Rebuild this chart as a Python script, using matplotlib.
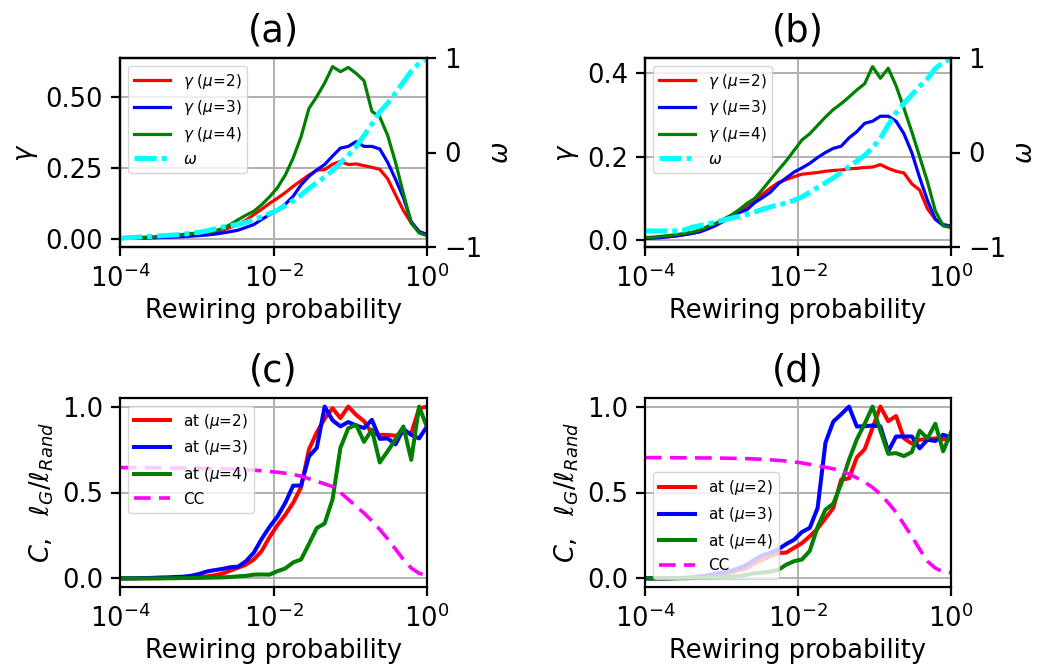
import numpy as np
import matplotlib
matplotlib.use('Agg')
import matplotlib.pyplot as plt
from matplotlib.ticker import NullLocator

# ---------------- data ----------------
p = np.logspace(-4, 0, 40)   # rewiring probability

gamma_a_mu2 = [0.002, 0.003, 0.003, 0.004, 0.005, 0.006, 0.007, 0.008, 0.010, 0.012,
               0.015, 0.019, 0.024, 0.030, 0.040, 0.050, 0.065, 0.085, 0.104, 0.125,
               0.143, 0.163, 0.185, 0.205, 0.225, 0.242, 0.244, 0.263, 0.273, 0.262,
               0.264, 0.258, 0.252, 0.245, 0.212, 0.155, 0.100, 0.055, 0.025, 0.014]
gamma_a_mu3 = [0.001, 0.001, 0.002, 0.002, 0.003, 0.004, 0.005, 0.006, 0.007, 0.009,
               0.011, 0.013, 0.016, 0.020, 0.025, 0.030, 0.040, 0.050, 0.068, 0.085,
               0.102, 0.122, 0.150, 0.190, 0.220, 0.243, 0.262, 0.292, 0.320, 0.326,
               0.343, 0.326, 0.326, 0.317, 0.270, 0.210, 0.145, 0.060, 0.025, 0.015]
gamma_a_mu4 = [0.003, 0.003, 0.004, 0.005, 0.006, 0.008, 0.010, 0.012, 0.015, 0.018,
               0.021, 0.024, 0.028, 0.035, 0.050, 0.067, 0.083, 0.097, 0.120, 0.148,
               0.180, 0.225, 0.285, 0.360, 0.460, 0.502, 0.550, 0.608, 0.590, 0.605,
               0.584, 0.558, 0.450, 0.430, 0.365, 0.270, 0.160, 0.055, 0.020, 0.011]
omega_a = [-0.907, -0.902, -0.897, -0.892, -0.887, -0.882, -0.877, -0.872, -0.865, -0.855,
           -0.845, -0.830, -0.810, -0.790, -0.775, -0.760, -0.740, -0.710, -0.680, -0.645,
           -0.610, -0.560, -0.510, -0.450, -0.380, -0.320, -0.260, -0.190, -0.110, -0.030,
           0.060, 0.180, 0.300, 0.430, 0.520, 0.630, 0.745, 0.860, 0.945, 0.990]

gamma_b_mu2 = [0.004, 0.005, 0.006, 0.008, 0.010, 0.013, 0.016, 0.020, 0.027, 0.035,
               0.045, 0.055, 0.066, 0.080, 0.095, 0.110, 0.125, 0.138, 0.145, 0.152,
               0.158, 0.160, 0.162, 0.165, 0.167, 0.168, 0.171, 0.172, 0.174, 0.175,
               0.181, 0.172, 0.165, 0.161, 0.135, 0.120, 0.075, 0.050, 0.038, 0.033]
gamma_b_mu3 = [0.004, 0.005, 0.006, 0.008, 0.010, 0.013, 0.016, 0.020, 0.027, 0.035,
               0.046, 0.057, 0.066, 0.073, 0.090, 0.102, 0.115, 0.135, 0.149, 0.163,
               0.173, 0.184, 0.198, 0.210, 0.220, 0.225, 0.245, 0.260, 0.280, 0.285,
               0.297, 0.297, 0.285, 0.255, 0.210, 0.150, 0.095, 0.050, 0.035, 0.033]
gamma_b_mu4 = [0.006, 0.007, 0.009, 0.011, 0.013, 0.016, 0.019, 0.024, 0.033, 0.040,
               0.050, 0.060, 0.073, 0.088, 0.100, 0.122, 0.145, 0.168, 0.190, 0.215,
               0.240, 0.255, 0.275, 0.295, 0.313, 0.327, 0.343, 0.360, 0.375, 0.416,
               0.388, 0.412, 0.370, 0.316, 0.260, 0.200, 0.140, 0.070, 0.034, 0.030]
omega_b = [-0.83, -0.83, -0.83, -0.83, -0.83, -0.82, -0.79, -0.775, -0.755, -0.735,
           -0.715, -0.695, -0.675, -0.655, -0.63, -0.60, -0.575, -0.555, -0.535, -0.505,
           -0.47, -0.42, -0.37, -0.32, -0.27, -0.21, -0.15, -0.09, -0.03, 0.05,
           0.15, 0.29, 0.42, 0.52, 0.61, 0.70, 0.78, 0.89, 0.95, 0.99]

at_c_mu2 = [0.0, 0.0, 0.0, 0.001, 0.001, 0.002, 0.002, 0.003, 0.004, 0.005,
            0.008, 0.012, 0.018, 0.028, 0.045, 0.062, 0.080, 0.110, 0.160, 0.240,
            0.310, 0.370, 0.440, 0.530, 0.750, 0.850, 0.930, 0.990, 0.933, 1.000,
            0.952, 0.915, 0.845, 0.835, 0.835, 0.830, 0.850, 0.845, 0.990, 1.000]
at_c_mu3 = [0.0, 0.0, 0.001, 0.002, 0.003, 0.005, 0.006, 0.008, 0.010, 0.015,
            0.025, 0.040, 0.048, 0.055, 0.065, 0.068, 0.100, 0.150, 0.230, 0.300,
            0.360, 0.440, 0.540, 0.540, 0.710, 0.760, 1.000, 0.920, 0.885, 0.910,
            0.890, 0.875, 0.923, 0.812, 0.815, 0.780, 0.870, 0.835, 0.815, 0.885]
at_c_mu4 = [0.0, 0.0, 0.0, 0.0, 0.0, 0.0, 0.001, 0.001, 0.002, 0.002,
            0.003, 0.004, 0.005, 0.006, 0.008, 0.012, 0.015, 0.022, 0.023, 0.022,
            0.042, 0.058, 0.093, 0.110, 0.200, 0.293, 0.320, 0.460, 0.760, 0.874,
            0.894, 0.795, 0.865, 0.675, 0.740, 0.810, 0.884, 0.690, 1.000, 0.880]
cc_c = [0.645, 0.645, 0.645, 0.645, 0.644, 0.644, 0.643, 0.643, 0.642, 0.642,
        0.641, 0.640, 0.639, 0.638, 0.637, 0.636, 0.633, 0.630, 0.626, 0.622,
        0.618, 0.612, 0.605, 0.595, 0.580, 0.565, 0.550, 0.535, 0.500, 0.460,
        0.420, 0.380, 0.335, 0.285, 0.230, 0.170, 0.110, 0.060, 0.030, 0.015]

at_d_mu2 = [0.0, 0.0, 0.0, 0.001, 0.002, 0.003, 0.005, 0.008, 0.012, 0.018,
            0.025, 0.035, 0.048, 0.060, 0.090, 0.110, 0.130, 0.148, 0.150, 0.178,
            0.205, 0.245, 0.290, 0.350, 0.410, 0.575, 0.582, 0.705, 0.752, 0.875,
            1.000, 0.915, 0.945, 0.815, 0.785, 0.807, 0.810, 0.815, 0.810, 0.810]
at_d_mu3 = [0.0, 0.0, 0.0, 0.001, 0.002, 0.003, 0.005, 0.012, 0.018, 0.027,
            0.035, 0.045, 0.060, 0.080, 0.110, 0.135, 0.150, 0.170, 0.200, 0.225,
            0.270, 0.294, 0.410, 0.790, 0.913, 0.955, 1.000, 0.884, 0.886, 0.890,
            0.885, 0.739, 0.826, 0.826, 0.826, 0.757, 0.807, 0.800, 0.836, 0.820]
at_d_mu4 = [0.0, 0.0, 0.0, 0.0, 0.001, 0.001, 0.002, 0.003, 0.004, 0.005,
            0.007, 0.010, 0.014, 0.022, 0.030, 0.035, 0.040, 0.050, 0.080, 0.100,
            0.110, 0.160, 0.300, 0.400, 0.435, 0.550, 0.690, 0.810, 0.900, 1.000,
            0.860, 0.725, 0.729, 0.712, 0.735, 0.860, 0.815, 0.900, 0.740, 0.850]
cc_d = [0.703, 0.703, 0.703, 0.703, 0.702, 0.702, 0.702, 0.701, 0.701, 0.700,
        0.700, 0.699, 0.698, 0.697, 0.695, 0.693, 0.690, 0.687, 0.683, 0.678,
        0.672, 0.664, 0.655, 0.647, 0.638, 0.625, 0.607, 0.585, 0.560, 0.530,
        0.490, 0.440, 0.385, 0.315, 0.245, 0.170, 0.100, 0.060, 0.038, 0.032]

mu_values = [2, 3, 4]
gamma_labels = [r'$\gamma$ ($\mu$=%d)' % m for m in mu_values]
at_labels = [r'at ($\mu$=%d)' % m for m in mu_values]
panel_titles = ['(a)', '(b)', '(c)', '(d)']
xticks = [1e-4, 1e-2, 1e0]

# ---------------- style ----------------
plt.rcParams.update({
    'font.size': 18.5,
    'axes.linewidth': 1.6,
    'xtick.major.size': 6.8, 'ytick.major.size': 6.8,
    'xtick.major.width': 1.6, 'ytick.major.width': 1.6,
    'xtick.major.pad': 5.5, 'ytick.major.pad': 5.5,
    'grid.linewidth': 1.4, 'grid.color': '#b0b0b0',
    'lines.scale_dashes': False,
})
colors = ['red', 'blue', 'green']

fig = plt.figure(figsize=(10.43, 6.7), dpi=100)
W, H = 1043.0, 670.0
def rect(l, t, r, b):
    return [l / W, (H - b) / H, (r - l) / W, (b - t) / H]

ax_a = fig.add_axes(rect(120, 58, 427, 247))
ax_b = fig.add_axes(rect(645, 58, 951, 247))
ax_c = fig.add_axes(rect(120, 398, 427, 587))
ax_d = fig.add_axes(rect(645, 398, 951, 587))

def common(ax, title):
    ax.set_xscale('log')
    ax.set_xlim(1e-4, 1)
    ax.set_xticks(xticks)
    ax.xaxis.set_minor_locator(NullLocator())
    ax.grid(True)
    ax.set_xlabel('Rewiring probability')
    ax.set_title(title, fontsize=26.5, pad=12)

def top_panel(ax, series, omega, title, yticks):
    for y, c, lab in zip(series, colors, gamma_labels):
        ax.plot(p, y, color=c, lw=2.3, label=lab)
    common(ax, title)
    ax.set_yticks(yticks)
    ax.set_ylabel(r'$\gamma$')
    ax2 = ax.twinx()
    ax2.plot(p, omega, color='cyan', lw=3.6, ls=(0, (16, 3.6, 3.6, 3.6)),
             label=r'$\omega$')
    ax2.set_ylim(-1, 1)
    ax2.set_yticks([-1, 0, 1])
    ax2.set_ylabel(r'$\omega$')
    ax2.xaxis.set_minor_locator(NullLocator())
    h1, l1 = ax.get_legend_handles_labels()
    h2, l2 = ax2.get_legend_handles_labels()
    ax2.legend(h1 + h2, l1 + l2, loc='upper left', fontsize=11, handlelength=2.4)

def bottom_panel(ax, series, cc, title, loc):
    for y, c, lab in zip(series, colors, at_labels):
        ax.plot(p, y, color=c, lw=2.9, label=lab)
    ax.plot(p, cc, color='magenta', lw=2.6, ls=(0, (12, 6)), label='CC')
    common(ax, title)
    ax.set_yticks([0.0, 0.5, 1.0])
    ax.set_ylabel(r'$C,\ \ \ell_G/\ell_{Rand}$')
    ax.legend(loc=loc, fontsize=11, handlelength=2.4)

top_panel(ax_a, [gamma_a_mu2, gamma_a_mu3, gamma_a_mu4], omega_a, panel_titles[0], [0.0, 0.25, 0.5])
top_panel(ax_b, [gamma_b_mu2, gamma_b_mu3, gamma_b_mu4], omega_b, panel_titles[1], [0.0, 0.2, 0.4])
bottom_panel(ax_c, [at_c_mu2, at_c_mu3, at_c_mu4], cc_c, panel_titles[2], 'upper left')
bottom_panel(ax_d, [at_d_mu2, at_d_mu3, at_d_mu4], cc_d, panel_titles[3], 'lower left')

fig.savefig('out.png', dpi=100)
